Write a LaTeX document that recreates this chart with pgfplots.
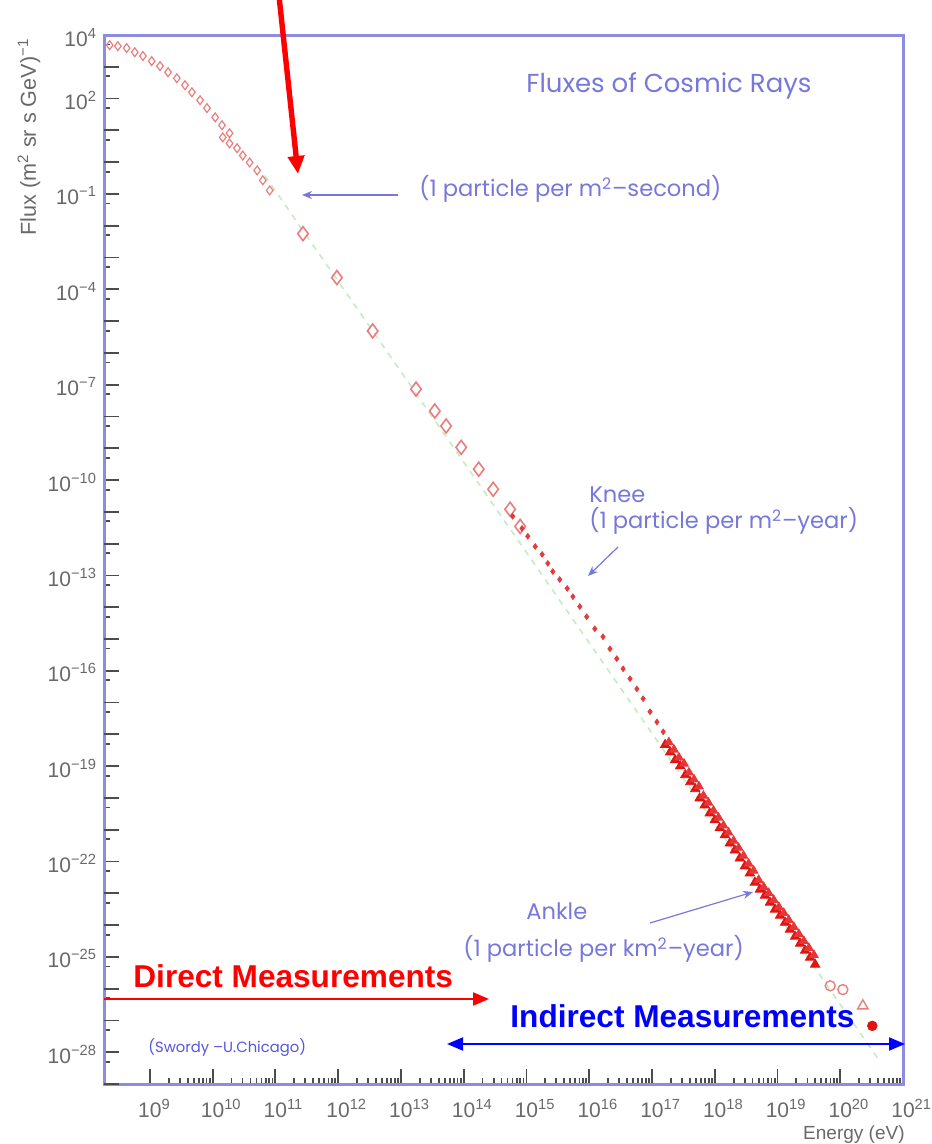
\documentclass[border=0pt]{standalone}
\usepackage{fontspec}
\setmainfont{Liberation Sans}
\newfontfamily\annfont{Poppins}
\usepackage{pgfplots}
\pgfplotsset{compat=1.18}
\usetikzlibrary{arrows.meta}
\definecolor{frame}{RGB}{140,140,225}
\definecolor{ann}{RGB}{120,120,218}
\definecolor{annd}{RGB}{85,85,225}
\definecolor{tickgray}{RGB}{105,105,105}
\definecolor{palered}{RGB}{235,125,125}
\definecolor{midred}{RGB}{228,60,60}
\definecolor{deepred}{RGB}{225,20,20}
\definecolor{ghostgreen}{RGB}{195,236,195}
\begin{document}
\begin{tikzpicture}
\begin{axis}[
  name=ax, scale only axis, width=399.5pt, height=524.5pt,
  xmode=log, ymode=log,
  xmin=1.86e8, xmax=1e21, ymin=1e-29, ymax=1e4,
  clip=false,
  axis line style={draw=frame, line width=1.5pt},
  tick style={draw=black!70, line width=0.9pt},
  major tick length=7.5pt, minor tick length=3pt,
  tick pos=left, tick align=inside,
  tick label style={text=tickgray, font=\fontsize{10.5}{12}\selectfont},
  xtick={1e9,1e10,1e11,1e12,1e13,1e14,1e15,1e16,1e17,1e18,1e19,1e20,1e21},
  xticklabels={10\rlap{\textsuperscript{9}},10\rlap{\textsuperscript{10}},10\rlap{\textsuperscript{11}},10\rlap{\textsuperscript{12}},10\rlap{\textsuperscript{13}},10\rlap{\textsuperscript{14}},10\rlap{\textsuperscript{15}},10\rlap{\textsuperscript{16}},10\rlap{\textsuperscript{17}},10\rlap{\textsuperscript{18}},10\rlap{\textsuperscript{19}},10\rlap{\textsuperscript{20}},10\rlap{\textsuperscript{21}}},
  xticklabel style={anchor=base, yshift=-16.5pt},
  ytick={1e-28,1e-25,1e-22,1e-19,1e-16,1e-13,1e-10,1e-7,1e-4,1e-1,1e2,1e4},
  yticklabels={10\textsuperscript{−28},10\textsuperscript{−25},10\textsuperscript{−22},10\textsuperscript{−19},10\textsuperscript{−16},10\textsuperscript{−13},10\textsuperscript{−10},10\textsuperscript{−7},10\textsuperscript{−4},10\textsuperscript{−1},10\textsuperscript{2},10\textsuperscript{4}},
  yticklabel style={anchor=base east, yshift=-5.5pt},
  extra y ticks={1e-29,1e-27,1e-26,1e-24,1e-23,1e-21,1e-20,1e-18,1e-17,1e-15,1e-14,1e-12,1e-11,1e-9,1e-8,1e-6,1e-5,1e-3,1e-2,1e0,1e1,1e3},
  extra y tick labels={},
  minor ytick={5e-29,5e-28,5e-27,5e-26,5e-25,5e-24,5e-23,5e-22,5e-21,5e-20,5e-19,5e-18,5e-17,5e-16,5e-15,5e-14,5e-13,5e-12,5e-11,5e-10,5e-9,5e-8,5e-7,5e-6,5e-5,5e-4,5e-3,5e-2,5e-1,5e0,5e1,5e2,5e3},
]
% faint reference line
\addplot[ghostgreen, dashed, line width=0.8pt] coordinates {(6.76e10,0.380) (3.98e20,6.31e-29)};
% low-energy direct measurements, upper stream
\addplot[only marks, mark=diamond, mark size=2.2pt, palered, mark options={line width=0.6pt}] coordinates {
(2.29e8,4.79e3) (3.09e8,4.47e3) (4.27e8,3.89e3) (5.75e8,2.88e3) (7.76e8,2.19e3)
(1.07e9,1.51e3) (1.45e9,1.05e3) (1.95e9,6.76e2) (2.69e9,4.37e2) (3.63e9,2.63e2)
(4.68e9,1.58e2) (6.31e9,8.91e1) (8.13e9,5.01e1) (1.10e10,2.57e1) (1.41e10,1.45e1)
(1.86e10,8.13)};
% lower stream
\addplot[only marks, mark=diamond, mark size=2.2pt, palered, mark options={line width=0.6pt}] coordinates {
(1.45e10,6.03) (1.86e10,3.89) (2.45e10,2.75) (3.02e10,1.62) (3.89e10,0.977)
(5.13e10,0.550) (6.31e10,0.269) (8.13e10,0.129)};
% large open diamonds
\addplot[only marks, mark=diamond, mark size=3.5pt, palered, mark options={line width=0.8pt}] coordinates {
(2.75e11,5.62e-3) (9.55e11,2.34e-4) (3.55e12,4.90e-6) (1.74e13,7.24e-8) (3.47e13,1.48e-8)
(5.25e13,5.01e-9) (9.12e13,1.07e-9) (1.74e14,2.19e-10) (2.95e14,5.13e-11) (5.50e14,1.20e-11)
(7.94e14,3.47e-12)};
% knee region
\addplot[only marks, mark=diamond*, mark size=1.4pt, midred] coordinates {
(6.03e14,7.24e-12) (8.51e14,3.02e-12) (1.05e15,1.70e-12) (1.38e15,8.13e-13) (1.78e15,4.57e-13)
(2.19e15,2.40e-13) (2.63e15,1.32e-13) (3.39e15,7.41e-14) (4.47e15,3.89e-14) (5.50e15,2.14e-14)
(7.08e15,1.05e-14) (9.12e15,5.01e-15) (1.23e16,2.09e-15) (1.66e16,1.17e-15) (2.14e16,4.90e-16)
(2.75e16,2.40e-16) (3.47e16,1.15e-16) (4.47e16,5.62e-17) (5.75e16,2.69e-17) (7.24e16,1.32e-17)
(9.33e16,5.13e-18) (1.20e17,2.45e-18) (1.51e17,1.20e-18)};
% dense ultra-high energy region (two overlapping experiments)
\addplot[only marks, mark=triangle*, mark size=2.7pt, deepred] coordinates {
(1.62e17,4.68e-19) (1.95e17,2.75e-19) (2.34e17,1.55e-19) (2.82e17,1.00e-19) (3.39e17,5.25e-20)
(4.07e17,3.16e-20) (4.90e17,1.91e-20) (5.75e17,9.77e-21) (6.92e17,5.89e-21) (8.32e17,3.31e-21)
(1.00e18,2.00e-21) (1.20e18,1.12e-21) (1.45e18,6.76e-22) (1.74e18,3.72e-22) (2.09e18,2.24e-22)
(2.51e18,1.26e-22) (3.02e18,7.08e-23) (3.63e18,4.27e-23) (4.37e18,2.19e-23) (5.25e18,1.32e-23)
(6.31e18,8.51e-24) (7.59e18,5.13e-24) (9.12e18,3.09e-24) (1.10e19,2.00e-24) (1.32e19,1.20e-24)
(1.58e19,7.24e-25) (1.91e19,4.37e-25) (2.29e19,2.63e-25) (2.75e19,1.58e-25) (3.31e19,9.55e-26)
(3.98e19,5.75e-26)};
\addplot[only marks, mark=triangle*, mark size=2.5pt, deepred!85] coordinates {
(1.86e17,5.62e-19) (2.24e17,3.31e-19) (2.69e17,1.86e-19) (3.24e17,1.20e-19) (3.89e17,6.31e-20)
(4.68e17,3.80e-20) (5.62e17,2.29e-20) (6.61e17,1.17e-20) (7.94e17,7.08e-21) (9.55e17,3.98e-21)
(1.15e18,2.40e-21) (1.38e18,1.35e-21) (1.66e18,8.13e-22) (2.00e18,4.47e-22) (2.40e18,2.69e-22)
(2.88e18,1.51e-22) (3.47e18,8.51e-23) (4.17e18,5.13e-23) (5.01e18,2.63e-23) (6.03e18,1.58e-23)
(7.24e18,1.02e-23) (8.71e18,6.17e-24) (1.05e19,3.72e-24) (1.26e19,2.40e-24) (1.51e19,1.45e-24)
(1.82e19,8.71e-25) (2.19e19,5.25e-25) (2.63e19,3.16e-25) (3.16e19,1.91e-25) (3.80e19,1.15e-25)};
% highest energies
\addplot[only marks, mark=o, mark size=2.5pt, palered, mark options={line width=0.7pt}] coordinates {
(6.92e19,1.23e-26) (1.10e20,9.33e-27)};
\addplot[only marks, mark=triangle, mark size=3pt, palered, mark options={line width=0.7pt}] coordinates {
(2.29e20,2.88e-27)};
\addplot[only marks, mark=*, mark size=2.4pt, deepred] coordinates {(3.24e20,6.76e-28)};
\end{axis}
\begin{scope}[x=0.5pt, y=-0.5pt, shift={(ax.south west)}, shift={(-104,-1084)}]
  % red arrow at top
  \draw[red, line width=2.7pt, -{Triangle[length=9pt,width=8pt]}] (279,-4) -- (298,174);
  % Direct / Indirect
  \draw[red, line width=1pt, -{Triangle[length=8pt,width=6.5pt]}] (104,999) -- (489,999);
  \node[red, font=\bfseries\fontsize{15.8}{18}\selectfont, anchor=base west, inner sep=0pt] at (133,988) {Direct Measurements};
  \draw[blue, line width=1pt, {Triangle[length=8pt,width=6.5pt]}-{Triangle[length=8pt,width=6.5pt]}] (447,1044) -- (905,1044);
  \node[blue, font=\bfseries\fontsize{15.8}{18}\selectfont, anchor=base west, inner sep=0pt] at (510,1028) {Indirect Measurements};
  % blue annotations
  \node[ann, font=\annfont\fontsize{13}{15}\selectfont, anchor=base, inner sep=0pt] at (669,93) {Fluxes of Cosmic Rays};
  \node[ann, font=\annfont\fontsize{11.3}{13}\selectfont, anchor=base west, inner sep=0pt] at (419,197) {(1 particle per m\textsuperscript{2}–second)};
  \draw[ann, line width=0.6pt, -{Stealth[length=5pt,width=4pt]}] (398,195) -- (302,195);
  \node[ann, font=\annfont\fontsize{11.3}{13}\selectfont, anchor=base west, inner sep=0pt] at (589,503) {Knee};
  \node[ann, font=\annfont\fontsize{11.3}{13}\selectfont, anchor=base west, inner sep=0pt] at (589,529) {(1 particle per m\textsuperscript{2}–year)};
  \draw[ann, line width=0.6pt, -{Stealth[length=5pt,width=4pt]}] (618,547) -- (588,576);
  \node[ann, font=\annfont\fontsize{11.3}{13}\selectfont, anchor=base west, inner sep=0pt] at (526,920) {Ankle};
  \node[ann, font=\annfont\fontsize{11.3}{13}\selectfont, anchor=base west, inner sep=0pt] at (463,957) {(1 particle per km\textsuperscript{2}–year)};
  \draw[ann, line width=0.6pt, -{Stealth[length=5pt,width=4pt]}] (650,923) -- (753,892);
  \node[annd, font=\annfont\fontsize{7.4}{9}\selectfont, anchor=base west, inner sep=0pt] at (148,1053) {(Swordy –U.Chicago)};
  % axis titles
  \node[tickgray, rotate=90, anchor=base east, inner sep=0pt, font=\fontsize{10.8}{12}\selectfont] at (36,38) {Flux (m\textsuperscript{2} sr s GeV)\textsuperscript{−1}};
  \node[tickgray, anchor=base east, inner sep=0pt, font=\fontsize{9.5}{11}\selectfont] at (905,1139) {Energy (eV)};
  \pgfresetboundingbox
  \useasboundingbox (0,0) rectangle (931,1144);
\end{scope}
\end{tikzpicture}
\end{document}
